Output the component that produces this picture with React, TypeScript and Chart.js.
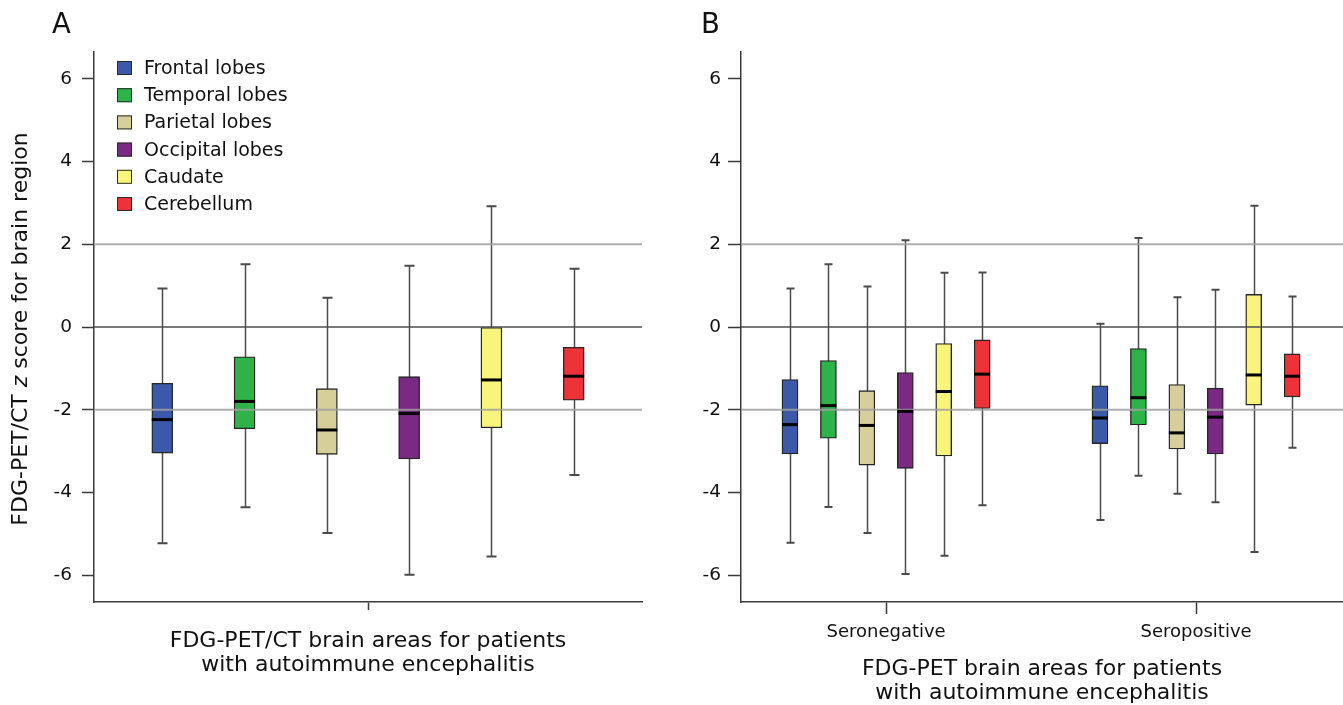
import React, { useEffect, useRef } from 'react';
import { Chart, registerables } from 'chart.js';

Chart.register(...registerables);

const FONT = '"DejaVu Sans", sans-serif';
Chart.defaults.font.family = FONT;
Chart.defaults.color = '#111';

// ---------- data ----------
const REGIONS = ['Frontal lobes', 'Temporal lobes', 'Parietal lobes', 'Occipital lobes', 'Caudate', 'Cerebellum'];
const COLORS = ['#3c58a8', '#2eb24a', '#d6cf9a', '#7a2a82', '#f9f57c', '#ed3238'];

// Panel A: all patients
const ALL_MIN = [-5.23, -4.36, -4.98, -5.99, -5.55, -3.58];
const ALL_Q1 = [-3.05, -2.46, -3.08, -3.19, -2.44, -1.77];
const ALL_MEDIAN = [-2.24, -1.8, -2.49, -2.09, -1.28, -1.19];
const ALL_Q3 = [-1.36, -0.72, -1.49, -1.2, 0.0, -0.49];
const ALL_MAX = [0.93, 1.52, 0.71, 1.48, 2.92, 1.41];

// Panel B: by serostatus
const GROUPS = ['Seronegative', 'Seropositive'];
const NEG_MIN = [-5.22, -4.35, -4.98, -5.97, -5.53, -4.31];
const NEG_Q1 = [-3.07, -2.69, -3.34, -3.42, -3.12, -1.97];
const NEG_MEDIAN = [-2.36, -1.9, -2.38, -2.04, -1.56, -1.14];
const NEG_Q3 = [-1.27, -0.81, -1.54, -1.1, -0.4, -0.31];
const NEG_MAX = [0.93, 1.52, 0.98, 2.1, 1.31, 1.32];

const POS_MIN = [-4.67, -3.6, -4.03, -4.24, -5.44, -2.92];
const POS_Q1 = [-2.82, -2.37, -2.95, -3.07, -1.89, -1.69];
const POS_MEDIAN = [-2.2, -1.71, -2.56, -2.18, -1.16, -1.19];
const POS_Q3 = [-1.42, -0.52, -1.39, -1.48, 0.79, -0.65];
const POS_MAX = [0.08, 2.15, 0.72, 0.9, 2.93, 0.74];

const Y_TICKS = [-6, -4, -2, 0, 2, 4, 6];
const REF_LINES = [-2, 0, 2];

const X_TITLE_A = ['FDG-PET/CT brain areas for patients', 'with autoimmune encephalitis'];
const X_TITLE_B = ['FDG-PET brain areas for patients', 'with autoimmune encephalitis'];

// ---------- plugins ----------
const boxWhiskerPlugin = {
  id: 'boxWhisker',
  beforeDatasetsDraw(chart: any, _args: any, opts: any) {
    const { ctx } = chart;
    const y = chart.scales.y;
    chart.data.datasets.forEach((ds: any, di: number) => {
      const meta = chart.getDatasetMeta(di);
      meta.data.forEach((bar: any, j: number) => {
        const x = Math.round(bar.x) + 0.5;
        const yMin = y.getPixelForValue(ds.whiskerMin[j]);
        const yMax = y.getPixelForValue(ds.whiskerMax[j]);
        const c = opts.capWidth / 2;
        ctx.save();
        ctx.strokeStyle = '#4a4a4a';
        ctx.lineWidth = 1.5;
        ctx.beginPath();
        ctx.moveTo(x, yMin);
        ctx.lineTo(x, yMax);
        ctx.stroke();
        ctx.lineWidth = 2;
        ctx.beginPath();
        ctx.moveTo(x - c, yMin);
        ctx.lineTo(x + c, yMin);
        ctx.moveTo(x - c, yMax);
        ctx.lineTo(x + c, yMax);
        ctx.stroke();
        ctx.restore();
      });
    });
  },
  afterDatasetsDraw(chart: any) {
    const { ctx, chartArea } = chart;
    const y = chart.scales.y;
    // reference lines, drawn over the boxes as in the original
    REF_LINES.forEach((v) => {
      const py = y.getPixelForValue(v);
      ctx.save();
      ctx.strokeStyle = v === 0 ? '#4d4d4d' : 'rgba(160,160,160,0.85)';
      ctx.lineWidth = v === 0 ? 1.5 : 2;
      ctx.beginPath();
      ctx.moveTo(chartArea.left, py);
      ctx.lineTo(chartArea.right, py);
      ctx.stroke();
      ctx.restore();
    });
    chart.data.datasets.forEach((ds: any, di: number) => {
      const meta = chart.getDatasetMeta(di);
      meta.data.forEach((bar: any, j: number) => {
        const ym = y.getPixelForValue(ds.median[j]);
        const w = bar.width / 2;
        ctx.save();
        ctx.strokeStyle = '#000';
        ctx.lineWidth = 3;
        ctx.beginPath();
        ctx.moveTo(bar.x - w, ym);
        ctx.lineTo(bar.x + w, ym);
        ctx.stroke();
        ctx.restore();
      });
    });
  },
};

const legendPlugin = {
  id: 'boxLegend',
  afterDraw(chart: any, _args: any, opts: any) {
    if (!opts || !opts.show) return;
    const { ctx } = chart;
    ctx.save();
    ctx.font = `19px ${FONT}`;
    ctx.textBaseline = 'middle';
    ctx.textAlign = 'left';
    chart.data.datasets.forEach((ds: any, i: number) => {
      const cy = opts.y + i * opts.gap;
      ctx.fillStyle = ds.backgroundColor;
      ctx.fillRect(opts.x, cy - 7, 15, 14);
      ctx.strokeStyle = '#2a2a2a';
      ctx.lineWidth = 1;
      ctx.strokeRect(opts.x + 0.5, cy - 6.5, 14, 13);
      ctx.fillStyle = '#111';
      ctx.fillText(ds.label, opts.x + 27, cy + 1);
    });
    ctx.restore();
  },
};

const textPlugin = {
  id: 'panelText',
  afterDraw(chart: any, _args: any, opts: any) {
    const { ctx } = chart;
    ctx.save();
    ctx.fillStyle = '#111';
    ctx.textBaseline = 'alphabetic';
    ctx.textAlign = 'left';
    ctx.font = `27.5px ${FONT}`;
    ctx.fillText(opts.letter, opts.letterX, 33);
    if (opts.yTitle) {
      const parts = [
        { t: 'FDG-PET/CT ', f: `22px ${FONT}` },
        { t: 'z', f: `italic 22px ${FONT}` },
        { t: ' score for brain region', f: `22px ${FONT}` },
      ];
      let total = 0;
      parts.forEach((p) => {
        ctx.font = p.f;
        total += ctx.measureText(p.t).width;
      });
      ctx.translate(opts.yTitleX, opts.yTitleY);
      ctx.rotate(-Math.PI / 2);
      let x = -total / 2;
      parts.forEach((p) => {
        ctx.font = p.f;
        ctx.fillText(p.t, x, 0);
        x += ctx.measureText(p.t).width;
      });
    }
    ctx.restore();
  },
};

function yScale(width: number, tickLength: number, padding: number) {
  return {
    type: 'linear',
    min: -6.65,
    max: 6.65,
    afterBuildTicks: (s: any) => {
      s.ticks = Y_TICKS.map((v) => ({ value: v }));
    },
    afterFit: (s: any) => {
      s.width = width;
    },
    ticks: { font: { size: 18.5 }, padding, color: '#111' },
    grid: {
      drawOnChartArea: false,
      tickLength,
      tickColor: '#3a3a3a',
      tickWidth: 1.5,
    },
    border: { color: '#3a3a3a', width: 1.5 },
  };
}

function makeChartA(canvas: HTMLCanvasElement) {
  return new Chart(canvas, {
    type: 'bar',
    data: {
      datasets: REGIONS.map((r, i) => ({
        label: r,
        backgroundColor: COLORS[i],
        borderColor: '#262626',
        borderWidth: 1.4,
        borderSkipped: false,
        barThickness: 21,
        grouped: false,
        data: [{ x: i + 1, y: [ALL_Q1[i], ALL_Q3[i]] }],
        whiskerMin: [ALL_MIN[i]],
        whiskerMax: [ALL_MAX[i]],
        median: [ALL_MEDIAN[i]],
      })) as any,
    },
    options: {
      animation: false,
      responsive: false,
      events: [],
      layout: { padding: { left: 0, right: 28, top: 52, bottom: 0 } },
      plugins: {
        legend: { display: false },
        tooltip: { enabled: false },
        boxWhisker: { capWidth: 10 },
        boxLegend: { show: true, x: 117, y: 68, gap: 27.2 },
        panelText: { letter: 'A', letterX: 52, yTitle: true, yTitleX: 27, yTitleY: 329 },
      } as any,
      scales: {
        x: {
          type: 'linear',
          min: 0.17,
          max: 6.83,
          offset: false,
          afterBuildTicks: (s: any) => {
            s.ticks = [{ value: 3.5 }];
          },
          afterFit: (s: any) => {
            s.height = 103;
          },
          ticks: { callback: () => '', padding: 0 },
          grid: { drawOnChartArea: false, drawTicks: true, tickLength: 8, tickColor: '#3a3a3a', tickWidth: 1.5, offset: false },
          border: { color: '#3a3a3a', width: 1.5 },
          title: {
            display: true,
            text: X_TITLE_A,
            color: '#111',
            font: { size: 22, lineHeight: '24px' },
            padding: { top: 0, bottom: 28 },
          },
        } as any,
        y: yScale(94, 12, 10) as any,
      },
    },
    plugins: [boxWhiskerPlugin, legendPlugin, textPlugin],
  });
}

const GROUP_POS = [1, 2];
const BOX_STEP = 0.124;

function makeChartB(canvas: HTMLCanvasElement) {
  return new Chart(canvas, {
    type: 'bar',
    data: {
      datasets: REGIONS.map((r, i) => ({
        label: r,
        backgroundColor: COLORS[i],
        borderColor: '#262626',
        borderWidth: 1.4,
        borderSkipped: false,
        barThickness: 16,
        grouped: false,
        data: [
          { x: GROUP_POS[0] + (i - 2.5) * BOX_STEP, y: [NEG_Q1[i], NEG_Q3[i]] },
          { x: GROUP_POS[1] + (i - 2.5) * BOX_STEP, y: [POS_Q1[i], POS_Q3[i]] },
        ],
        whiskerMin: [NEG_MIN[i], POS_MIN[i]],
        whiskerMax: [NEG_MAX[i], POS_MAX[i]],
        median: [NEG_MEDIAN[i], POS_MEDIAN[i]],
      })) as any,
    },
    options: {
      animation: false,
      responsive: false,
      events: [],
      layout: { padding: { left: 0, right: 0, top: 52, bottom: 0 } },
      plugins: {
        legend: { display: false },
        tooltip: { enabled: false },
        boxWhisker: { capWidth: 8 },
        boxLegend: { show: false },
        panelText: { letter: 'B', letterX: 31, yTitle: false },
      } as any,
      scales: {
        x: {
          type: 'linear',
          min: 0.532,
          max: 2.474,
          offset: false,
          afterBuildTicks: (s: any) => {
            s.ticks = GROUP_POS.map((v) => ({ value: v }));
          },
          afterFit: (s: any) => {
            s.height = 103;
          },
          ticks: {
            callback: (v: any) => GROUPS[GROUP_POS.indexOf(Number(v))] ?? '',
            padding: 8,
            font: { size: 18 },
            color: '#111',
            maxRotation: 0,
            autoSkip: false,
          },
          grid: { drawOnChartArea: false, drawTicks: true, tickLength: 12, tickColor: '#3a3a3a', tickWidth: 1.5, offset: false },
          border: { color: '#3a3a3a', width: 1.5 },
          title: {
            display: true,
            text: X_TITLE_B,
            color: '#111',
            font: { size: 22, lineHeight: '24px' },
            padding: { top: 0, bottom: 0 },
          },
        } as any,
        y: yScale(71, 13, 7) as any,
      },
    },
    plugins: [boxWhiskerPlugin, legendPlugin, textPlugin],
  });
}

export default function App() {
  const refA = useRef<HTMLCanvasElement>(null);
  const refB = useRef<HTMLCanvasElement>(null);

  useEffect(() => {
    const a = makeChartA(refA.current!);
    const b = makeChartB(refB.current!);
    return () => {
      a.destroy();
      b.destroy();
    };
  }, []);

  return (
    <div style={{ position: 'absolute', left: 0, top: 0, width: 1343, height: 705, background: '#fff', overflow: 'hidden' }}>
      <div style={{ position: 'absolute', left: 0, top: 0, width: 670, height: 705 }}>
        <canvas ref={refA} width={670} height={705} style={{ width: 670, height: 705, display: 'block' }} />
      </div>
      <div style={{ position: 'absolute', left: 670, top: 0, width: 673, height: 705 }}>
        <canvas ref={refB} width={673} height={705} style={{ width: 673, height: 705, display: 'block' }} />
      </div>
    </div>
  );
}
